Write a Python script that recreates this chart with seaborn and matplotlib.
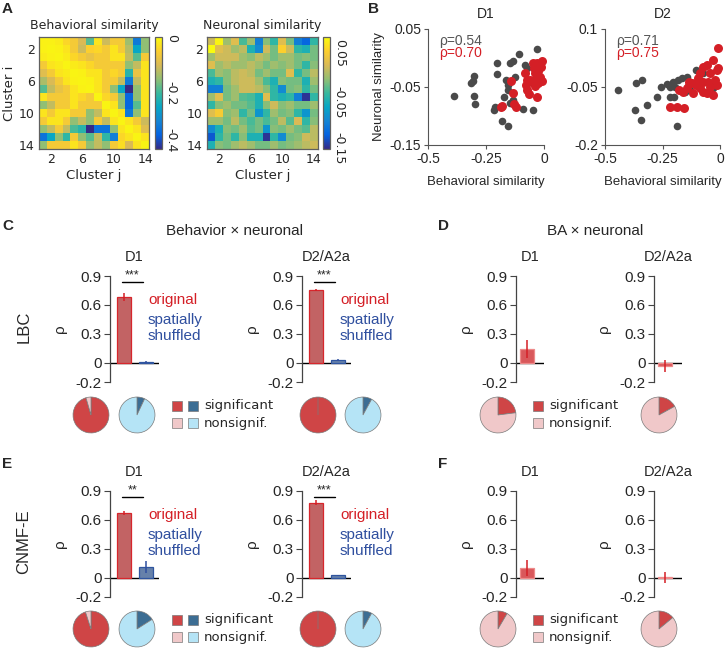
import numpy as np
import pandas as pd
import matplotlib
matplotlib.use("Agg")
import matplotlib.pyplot as plt
from matplotlib.colors import LinearSegmentedColormap
from matplotlib.patches import Rectangle
import seaborn as sns

W, H = 726, 649

# ---------------- data ----------------
cluster_ticks = [2, 6, 10, 14]

behav_sim = np.array([
    [-0.005, -0.005, -0.012, -0.04, -0.065, -0.11, -0.21, -0.02, -0.12, -0.065, -0.065, -0.16, -0.37, -0.17],
    [-0.005, 0.0, -0.005, -0.02, -0.065, -0.12, -0.05, -0.04, -0.065, -0.02, -0.065, -0.14, -0.29, -0.17],
    [-0.012, -0.005, 0.0, -0.012, -0.04, -0.065, -0.085, -0.065, -0.065, -0.02, -0.02, -0.13, -0.21, -0.065],
    [-0.065, -0.02, -0.012, 0.0, -0.012, -0.02, -0.04, -0.065, -0.065, -0.065, -0.065, -0.17, -0.13, -0.02],
    [-0.10, -0.065, -0.02, -0.012, 0.0, -0.005, -0.02, -0.02, -0.065, -0.04, -0.065, -0.25, -0.085, -0.02],
    [-0.15, -0.11, -0.065, -0.02, -0.005, 0.0, -0.005, -0.02, -0.065, -0.065, -0.13, -0.37, -0.13, -0.02],
    [-0.21, -0.13, -0.085, -0.065, -0.02, -0.005, 0.0, -0.02, -0.065, -0.17, -0.29, -0.47, -0.17, -0.02],
    [-0.02, -0.065, -0.065, -0.065, -0.02, -0.04, -0.065, 0.0, -0.04, -0.065, -0.17, -0.40, -0.17, -0.02],
    [-0.17, -0.13, -0.065, -0.065, -0.02, -0.065, -0.065, -0.065, 0.0, -0.02, -0.17, -0.40, -0.21, -0.02],
    [-0.02, -0.065, -0.02, -0.02, -0.065, -0.065, -0.17, -0.13, -0.02, 0.0, -0.02, -0.37, -0.17, -0.02],
    [-0.065, -0.02, -0.02, -0.065, -0.17, -0.13, -0.17, -0.065, -0.13, -0.02, 0.0, -0.02, -0.065, -0.12],
    [-0.17, -0.13, -0.065, -0.13, -0.22, -0.25, -0.47, -0.38, -0.38, -0.17, -0.02, 0.0, -0.02, -0.10],
    [-0.38, -0.29, -0.17, -0.24, -0.065, -0.17, -0.21, -0.13, -0.24, -0.36, -0.04, -0.02, 0.0, -0.02],
    [-0.17, -0.065, -0.065, -0.065, -0.02, -0.065, -0.17, -0.13, -0.17, -0.065, -0.03, -0.11, -0.02, 0.0],
])

neuro_sim = np.array([
    [0.0, 0.06, -0.02, 0.01, -0.05, -0.02, -0.12, -0.028, -0.06, 0.01, -0.035, -0.12, -0.14, -0.06],
    [0.065, 0.01, 0.0, -0.02, -0.008, -0.07, -0.11, 0.0, -0.035, 0.035, 0.0, -0.06, -0.07, -0.035],
    [-0.02, 0.0, 0.0, 0.0, -0.02, -0.028, -0.008, -0.02, -0.035, -0.02, -0.02, -0.035, -0.028, -0.035],
    [0.01, -0.02, -0.008, -0.02, -0.02, -0.008, -0.02, -0.035, -0.02, -0.028, -0.02, -0.035, -0.06, -0.028],
    [-0.05, -0.02, -0.028, -0.008, 0.0, -0.008, -0.035, -0.02, -0.035, -0.035, 0.01, -0.06, -0.035, -0.008],
    [-0.07, -0.06, -0.028, -0.008, 0.0, 0.0, -0.02, -0.05, -0.07, -0.028, -0.035, -0.035, -0.07, -0.02],
    [-0.12, -0.12, -0.035, -0.02, 0.0, 0.0, -0.008, -0.028, -0.06, -0.11, -0.035, -0.028, -0.06, -0.035],
    [-0.02, 0.01, -0.035, -0.02, -0.045, -0.05, -0.07, 0.01, -0.06, -0.07, -0.06, -0.12, -0.17, -0.06],
    [-0.06, -0.028, -0.02, -0.035, -0.035, -0.045, -0.07, -0.028, 0.0, -0.028, -0.02, -0.035, -0.035, -0.02],
    [0.01, 0.03, -0.028, -0.02, -0.06, -0.035, -0.10, -0.06, -0.02, -0.035, -0.028, -0.06, -0.10, -0.035],
    [-0.02, -0.02, -0.035, -0.008, -0.035, -0.05, -0.035, -0.05, -0.035, -0.008, -0.045, 0.005, -0.06, -0.028],
    [-0.11, -0.07, -0.028, -0.035, -0.02, -0.045, -0.035, -0.10, -0.028, -0.035, -0.02, -0.035, -0.045, -0.008],
    [-0.15, -0.06, -0.035, -0.06, -0.028, -0.07, -0.07, -0.17, -0.06, -0.11, -0.035, -0.028, 0.0, -0.008],
    [-0.07, -0.028, -0.035, -0.02, -0.008, -0.02, -0.035, -0.035, -0.02, -0.035, -0.028, -0.02, -0.008, 0.0],
])

# panel B scatter (gray = all pairs, red = highlighted pairs)
d1_gray_x = [-0.389, -0.316, -0.306, -0.303, -0.301, -0.298, -0.202, -0.202, -0.216, -0.212,
             -0.179, -0.154, -0.147, -0.135, -0.108, -0.082, -0.164, -0.157, -0.157, -0.173,
             -0.147, -0.092, -0.049, -0.029, -0.072, -0.132, -0.125, -0.046]
d1_gray_y = [-0.065, -0.043, -0.040, -0.031, -0.065, -0.080, -0.009, -0.027, -0.089, -0.085,
             -0.108, -0.118, -0.009, -0.006, 0.007, -0.012, -0.038, -0.046, -0.056, -0.068,
             -0.078, -0.088, -0.089, 0.016, -0.017, -0.073, -0.032, -0.043]
d1_red_x = [-0.186, -0.183, -0.144, -0.135, -0.128, -0.122, -0.082, -0.078, -0.072, -0.063,
            -0.029, -0.046, -0.032, -0.010, -0.014, -0.024, -0.039, -0.032, -0.017, -0.010,
            -0.049, -0.061, -0.043, -0.024, -0.075, -0.039]
d1_red_y = [-0.085, -0.083, -0.040, -0.061, -0.080, -0.085, -0.025, -0.046, -0.055, -0.062,
            -0.068, -0.009, -0.008, -0.006, -0.015, -0.023, -0.026, -0.035, -0.032, -0.040,
            -0.040, -0.038, -0.017, -0.043, -0.038, -0.049]

d2_gray_x = [-0.442, -0.367, -0.341, -0.370, -0.345, -0.319, -0.275, -0.258, -0.229, -0.217,
             -0.203, -0.196, -0.181, -0.167, -0.145, -0.104, -0.217, -0.200, -0.188, -0.138,
             -0.072, -0.029, -0.029, -0.094, -0.152, -0.130]
d2_gray_y = [-0.059, -0.040, -0.031, -0.109, -0.135, -0.096, -0.077, -0.050, -0.042, -0.050,
             -0.036, -0.049, -0.031, -0.027, -0.023, -0.005, -0.075, -0.075, -0.152, -0.047,
             -0.014, -0.040, -0.053, -0.031, -0.062, -0.057]
d2_red_x = [-0.217, -0.188, -0.155, -0.007, -0.177, -0.160, -0.142, -0.123, -0.104, -0.087,
            -0.072, -0.058, -0.029, -0.087, -0.072, -0.058, -0.032, -0.014, -0.007, -0.043,
            -0.022, -0.051, -0.072, -0.094, -0.116, -0.014, -0.133, -0.043]
d2_red_y = [-0.101, -0.101, -0.105, 0.051, -0.059, -0.062, -0.053, -0.040, -0.044, -0.053,
            -0.062, -0.066, -0.070, -0.014, 0.003, 0.007, 0.019, -0.005, -0.001, -0.014,
            -0.031, -0.036, -0.036, -0.027, -0.066, -0.044, -0.036, -0.049]

rho_gray = [0.54, 0.71]
rho_red = [0.70, 0.75]

# panels C-F : mean rho and error, [D1, D2/A2a]
lbc_orig, lbc_orig_err = [0.68, 0.75], [0.04, 0.01]
lbc_shuf, lbc_shuf_err = [0.003, 0.028], [0.02, 0.006]
cnmfe_orig, cnmfe_orig_err = [0.67, 0.78], [0.02, 0.025]
cnmfe_shuf, cnmfe_shuf_err = [0.11, 0.025], [0.06, 0.005]
lbc_ba, lbc_ba_err = [0.14, -0.035], [0.095, 0.06]
cnmfe_ba, cnmfe_ba_err = [0.10, 0.005], [0.08, 0.055]
lbc_stars = ["***", "***"]
cnmfe_stars = ["**", "***"]

# fraction of significant cells, [D1, D2/A2a]
lbc_pie_orig, lbc_pie_shuf = [0.955, 1.0], [0.07, 0.08]
cnmfe_pie_orig, cnmfe_pie_shuf = [0.95, 1.0], [0.16, 0.08]
lbc_pie_ba, cnmfe_pie_ba = [0.23, 0.17], [0.085, 0.14]

genotypes = ["D1", "D2/A2a"]

# ---------------- style ----------------
sns.set_style("ticks")
plt.rcParams["font.family"] = ["Liberation Sans", "DejaVu Sans"]

parula = LinearSegmentedColormap.from_list(
    "parula", ["#352a87", "#0363e1", "#1485d4", "#06a7c6", "#38b99e",
               "#92bf73", "#d9ba56", "#fcce2e", "#f9fb0e"])

GRAY = "#4a4a4a"
RED = "#d41f26"
BAR_RED = "#d25354"
BAR_BLUE = "#5b7fb5"
TXT_BLUE = "#2f4f9f"
PIE_RED, PIE_PINK = "#cf4546", "#f0c8c9"
PIE_DBLUE, PIE_LBLUE = "#3c6d93", "#b5e4f6"

fig = plt.figure(figsize=(W / 100, H / 100), dpi=100)


def add_ax(l, t, r, b):
    return fig.add_axes([l / W, 1 - b / H, (r - l) / W, (b - t) / H])


def ftext(x, y, s, **kw):
    fig.text(x / W, 1 - y / H, s, **kw)


# ---------------- A: heatmaps ----------------
def draw_heatmap(box, cbox, data, vmin, vmax, cticks, clabels, title, ylabel):
    ax = add_ax(*box)
    cax = add_ax(*cbox)
    sns.heatmap(data, ax=ax, cbar_ax=cax, cmap=parula, vmin=vmin, vmax=vmax,
                xticklabels=False, yticklabels=False)
    pos = np.array(cluster_ticks) - 0.5
    ax.set_xticks(pos, [str(c) for c in cluster_ticks])
    ax.set_yticks(pos, [str(c) for c in cluster_ticks])
    for s in ax.spines.values():
        s.set_visible(True)
        s.set_color("#606060")
        s.set_linewidth(0.9)
    ax.tick_params(direction="in", length=2.5, top=True, right=True, color="#606060",
                   labelsize=9, pad=3, labelfontfamily="DejaVu Sans")
    ax.set_title(title, fontsize=9, family="DejaVu Sans", pad=6)
    ax.set_xlabel("Cluster j", fontsize=9.5, family="DejaVu Sans", labelpad=2)
    if ylabel:
        ax.set_ylabel("Cluster i", fontsize=9.5, family="DejaVu Sans", labelpad=2)
    cbar = ax.collections[0].colorbar
    cbar.set_ticks(cticks, labels=clabels)
    cbar.outline.set_edgecolor("#606060")
    cbar.outline.set_linewidth(0.9)
    cax.tick_params(direction="in", length=2, color="#606060", labelsize=9,
                    labelrotation=-90, pad=2, labelfontfamily="DejaVu Sans")


draw_heatmap((39, 37, 149, 149), (155, 37, 162, 149), behav_sim, -0.47, 0.01,
             [0, -0.2, -0.4], ["0", "-0.2", "-0.4"], "Behavioral similarity", True)
draw_heatmap((207, 37, 318, 149), (323, 37, 330, 149), neuro_sim, -0.175, 0.065,
             [0.05, -0.05, -0.15], ["0.05", "-0.05", "-0.15"], "Neuronal similarity", False)


# ---------------- B: scatter ----------------
def draw_scatter(box, gx, gy, rx, ry, ylim, yticks, ylabels, title, rg, rr, ylabel):
    ax = add_ax(*box)
    sns.scatterplot(x=gx, y=gy, ax=ax, color=GRAY, s=30, linewidth=0)
    sns.scatterplot(x=rx, y=ry, ax=ax, color=RED, s=42, linewidth=0)
    for c in ax.collections:
        c.set_clip_on(False)
    ax.set_xlim(-0.5, 0)
    ax.set_ylim(*ylim)
    ax.set_xticks([-0.5, -0.25, 0], ["-0.5", "-0.25", "0"])
    ax.set_yticks(yticks, ylabels)
    sns.despine(ax=ax)
    for s in ("left", "bottom"):
        ax.spines[s].set_color("#555555")
        ax.spines[s].set_linewidth(0.8)
    ax.tick_params(direction="out", length=3, color="#555555", labelsize=10, pad=2)
    ax.set_title(title, fontsize=10, pad=8)
    ax.set_xlabel("Behavioral similarity", fontsize=9.5, labelpad=7)
    ax.set_ylabel("Neuronal similarity" if ylabel else "", fontsize=9.5, labelpad=3)
    ax.text(0.10, 0.90, f"ρ={rg:.2f}", transform=ax.transAxes, color="#555555",
            fontsize=10, va="center")
    ax.text(0.10, 0.79, f"ρ={rr:.2f}", transform=ax.transAxes, color=RED,
            fontsize=10, va="center")


draw_scatter((428, 29, 544, 145), d1_gray_x, d1_gray_y, d1_red_x, d1_red_y, (-0.15, 0.05),
             [-0.15, -0.05, 0.05], ["-0.15", "-0.05", "0.05"], "D1",
             rho_gray[0], rho_red[0], True)
draw_scatter((605, 29, 720, 145), d2_gray_x, d2_gray_y, d2_red_x, d2_red_y, (-0.2, 0.1),
             [-0.2, -0.05, 0.1], ["-0.2", "-0.05", "0.1"], "D2",
             rho_gray[1], rho_red[1], False)


# ---------------- C-F: bars ----------------
UNIT = 22.0   # px between bar centres


def draw_bars(left, top, vals, errs, title, stars=None, faded=False):
    n = len(vals)
    width_px = 49 if n == 2 else 28
    first = 14 if n == 2 else 11
    ax = add_ax(left, top, left + width_px, top + 106)
    cond = ["original", "shuffled"][:n]
    df = pd.DataFrame({"cond": cond, "rho": vals})
    fills = [BAR_RED, BAR_BLUE][:n]
    sns.barplot(data=df, x="cond", y="rho", hue="cond", palette=fills, ax=ax,
                width=13.7 / UNIT, errorbar=None, legend=False)
    edges = ["#d7262c", "#2f559f"]
    for p, e in zip(ax.patches, edges):
        p.set_edgecolor("#ee8a8a" if faded else e)
        p.set_linewidth(0.9)
        if faded:
            p.set_facecolor("#d9585b")
    ax.errorbar(range(n), vals, yerr=errs, fmt="none",
                ecolor=None, elinewidth=1.1, capsize=0)
    ax.collections[-1].set_color([RED, TXT_BLUE][:n])
    ax.axhline(0, color="black", lw=1, zorder=0.5)
    ax.set_xlim(-first / UNIT, -first / UNIT + width_px / UNIT)
    ax.set_ylim(-0.2, 0.9)
    ax.set_yticks([-0.2, 0, 0.3, 0.6, 0.9], ["-0.2", "0", "0.3", "0.6", "0.9"])
    ax.set_xticks([])
    ax.set_xlabel("")
    ax.set_ylabel("ρ", fontsize=11, labelpad=6)
    sns.despine(ax=ax, bottom=True)
    ax.spines["left"].set_color("#444444")
    ax.spines["left"].set_linewidth(0.9)
    ax.tick_params(axis="y", direction="out", length=4, color="#444444",
                   labelsize=11, pad=2)
    ax.set_title(title, fontsize=10.5, pad=11)
    if stars:
        ax.plot([-0.1, 0.87], [0.84, 0.84], color="black", lw=1, clip_on=False)
        ax.text(0.385, 0.845, stars, ha="center", va="bottom", fontsize=9, clip_on=False)
    return ax


def draw_pie(cx, cy, frac, dark, light, r=18.5):
    ax = add_ax(cx - r, cy - r, cx + r, cy + r)
    ax.pie([frac, 1 - frac], colors=[dark, light], startangle=90, counterclock=False,
           wedgeprops=dict(edgecolor="#7a7a7a", linewidth=0.5))
    ax.set_xlim(-1.03, 1.03)
    ax.set_ylim(-1.03, 1.03)
    ax.axis("off")


def pie_legend(x, y, colors):
    for row, (label, pair) in enumerate(zip(["significant", "nonsignif."], colors)):
        yy = y + row * 17
        for k, c in enumerate(pair):
            fig.add_artist(Rectangle(((x + k * 16) / W, 1 - (yy + 5) / H), 10 / W, 10 / H,
                                     transform=fig.transFigure, facecolor=c,
                                     edgecolor="#7a7a7a", linewidth=0.5))
        ftext(x + len(pair) * 16, yy, label, va="center", fontsize=9.5,
              family="DejaVu Sans")


def orig_shuf_labels(x, y):
    ftext(x, y, "original", color=RED, fontsize=11, va="center")
    ftext(x, y + 20, "spatially", color=TXT_BLUE, fontsize=11, va="center")
    ftext(x, y + 36, "shuffled", color=TXT_BLUE, fontsize=11, va="center")


rows = [
    (276, 415, lbc_orig, lbc_orig_err, lbc_shuf, lbc_shuf_err, lbc_stars,
     lbc_pie_orig, lbc_pie_shuf, lbc_ba, lbc_ba_err, lbc_pie_ba),
    (491, 629, cnmfe_orig, cnmfe_orig_err, cnmfe_shuf, cnmfe_shuf_err, cnmfe_stars,
     cnmfe_pie_orig, cnmfe_pie_shuf, cnmfe_ba, cnmfe_ba_err, cnmfe_pie_ba),
]

for (top, pie_y, orig, orig_e, shuf, shuf_e, stars,
     p_orig, p_shuf, ba, ba_e, p_ba) in rows:
    for g, left in enumerate([110, 302]):
        draw_bars(left, top, [orig[g], shuf[g]], [orig_e[g], shuf_e[g]], genotypes[g], stars[g])
        orig_shuf_labels(left + 38, top + 24)
    for g, left in enumerate([516, 654]):
        draw_bars(left, top, [ba[g]], [ba_e[g]], genotypes[g], faded=True)
    draw_pie(91, pie_y, p_orig[0], PIE_RED, PIE_PINK)
    draw_pie(137, pie_y, p_shuf[0], PIE_DBLUE, PIE_LBLUE)
    draw_pie(318, pie_y, p_orig[1], PIE_RED, PIE_PINK)
    draw_pie(363, pie_y, p_shuf[1], PIE_DBLUE, PIE_LBLUE)
    pie_legend(172, pie_y - 9, [(PIE_RED, PIE_DBLUE), (PIE_PINK, PIE_LBLUE)])
    draw_pie(498, pie_y, p_ba[0], PIE_RED, PIE_PINK)
    draw_pie(659, pie_y, p_ba[1], PIE_RED, PIE_PINK)
    pie_legend(533, pie_y - 9, [(PIE_RED,), (PIE_PINK,)])

# headings and panel letters
ftext(234, 231, "Behavior × neuronal", ha="center", va="center", fontsize=11)
ftext(595, 231, "BA × neuronal", ha="center", va="center", fontsize=11)
ftext(24, 327, "LBC", rotation=90, ha="center", va="center", fontsize=12)
ftext(24, 542, "CNMF-E", rotation=90, ha="center", va="center", fontsize=12)
for letter, x, y in [("A", 2, 9), ("B", 368, 9), ("C", 2, 226), ("D", 438, 226),
                     ("E", 2, 464), ("F", 438, 464)]:
    ftext(x, y, letter, fontsize=11, fontweight="bold", va="center")

fig.savefig("out.png", dpi=100)
